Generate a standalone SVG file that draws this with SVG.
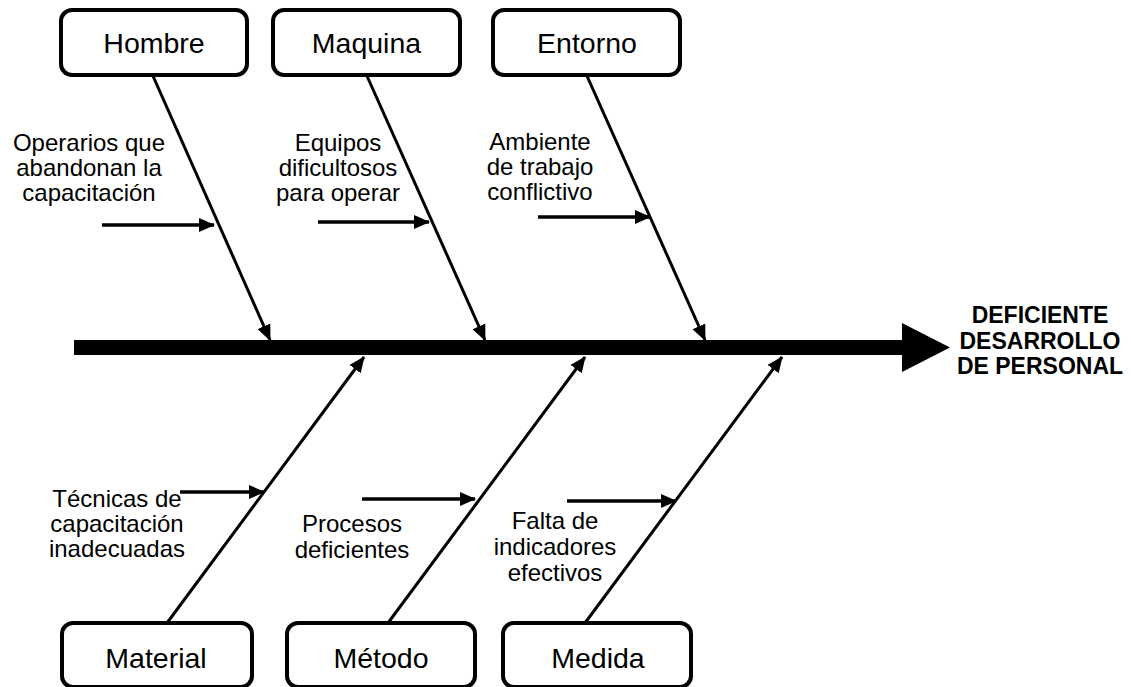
<svg xmlns="http://www.w3.org/2000/svg" width="1131" height="687" viewBox="0 0 1131 687">
  <style>
    .box { fill: #fff; stroke: #000; stroke-width: 4; }
    .boxlabel { font-family: "Liberation Sans", Arial, sans-serif; font-size: 28.5px; fill: #000; text-anchor: middle; }
    .cause { font-family: "Liberation Sans", Arial, sans-serif; font-size: 24px; fill: #000; text-anchor: middle; }
    .effect { font-family: "Liberation Sans", Arial, sans-serif; font-size: 23px; font-weight: bold; fill: #000; text-anchor: middle; }
    .bone { stroke: #000; stroke-width: 3; fill: none; marker-end: url(#head); }
    .sub { stroke: #000; stroke-width: 3.5; fill: none; marker-end: url(#head); }
  </style>
  <defs>
    <marker id="head" viewBox="0 0 16 16" refX="15" refY="8" markerWidth="16" markerHeight="16" markerUnits="userSpaceOnUse" orient="auto">
      <path d="M0,1 L16,8 L0,15 z" fill="#000"/>
    </marker>
  </defs>

  <rect width="1131" height="687" fill="#fff"/>

  <!-- spine with effect arrow -->
  <g id="spine">
    <rect x="74" y="340" width="830" height="15" fill="#000"/>
    <polygon points="902,323 950,347.5 902,372" fill="#000"/>
  </g>

  <!-- connectors: main bones and sub-cause arrows -->
  <g id="connectors">
    <line class="bone" x1="153" y1="76" x2="270" y2="340"/>
    <line class="bone" x1="367" y1="76" x2="485" y2="340"/>
    <line class="bone" x1="587" y1="76" x2="705" y2="340"/>
    <line class="bone" x1="167" y1="623" x2="364" y2="357"/>
    <line class="bone" x1="388" y1="623" x2="585" y2="357"/>
    <line class="bone" x1="585" y1="623" x2="782" y2="357"/>

    <line class="sub" x1="102" y1="225" x2="214" y2="225"/>
    <line class="sub" x1="318" y1="222" x2="429" y2="222"/>
    <line class="sub" x1="538" y1="217" x2="650" y2="217"/>
    <line class="sub" x1="180" y1="492" x2="264" y2="492"/>
    <line class="sub" x1="362" y1="499" x2="475" y2="499"/>
    <line class="sub" x1="567" y1="501" x2="676" y2="501"/>
  </g>

  <!-- category boxes -->
  <g id="hombre">
    <rect class="box" x="61" y="10" width="186" height="65" rx="11"/>
    <text class="boxlabel" x="154" y="53">Hombre</text>
  </g>
  <g id="maquina">
    <rect class="box" x="273" y="10" width="187" height="65" rx="11"/>
    <text class="boxlabel" x="366.5" y="53">Maquina</text>
  </g>
  <g id="entorno">
    <rect class="box" x="493" y="10" width="187" height="65" rx="11"/>
    <text class="boxlabel" x="587" y="53">Entorno</text>
  </g>
  <g id="material">
    <rect class="box" x="62" y="623" width="190" height="64" rx="11"/>
    <text class="boxlabel" x="156" y="668">Material</text>
  </g>
  <g id="metodo">
    <rect class="box" x="287" y="623" width="188" height="64" rx="11"/>
    <text class="boxlabel" x="381" y="668">Método</text>
  </g>
  <g id="medida">
    <rect class="box" x="503" y="623" width="188" height="64" rx="11"/>
    <text class="boxlabel" x="598" y="668">Medida</text>
  </g>

  <!-- cause labels -->
  <g id="cause-hombre">
    <text class="cause" x="89" y="151">Operarios que</text>
    <text class="cause" x="89" y="176">abandonan la</text>
    <text class="cause" x="89" y="201">capacitación</text>
  </g>
  <g id="cause-maquina">
    <text class="cause" x="338" y="151">Equipos</text>
    <text class="cause" x="338" y="176">dificultosos</text>
    <text class="cause" x="338" y="201">para operar</text>
  </g>
  <g id="cause-entorno">
    <text class="cause" x="540" y="150">Ambiente</text>
    <text class="cause" x="540" y="175">de trabajo</text>
    <text class="cause" x="540" y="200">conflictivo</text>
  </g>
  <g id="cause-material">
    <text class="cause" x="117" y="507">Técnicas de</text>
    <text class="cause" x="117" y="532">capacitación</text>
    <text class="cause" x="117" y="557">inadecuadas</text>
  </g>
  <g id="cause-metodo">
    <text class="cause" x="352" y="532">Procesos</text>
    <text class="cause" x="352" y="558">deficientes</text>
  </g>
  <g id="cause-medida">
    <text class="cause" x="555" y="529">Falta de</text>
    <text class="cause" x="555" y="555">indicadores</text>
    <text class="cause" x="555" y="581">efectivos</text>
  </g>

  <!-- effect -->
  <g id="effect">
    <text class="effect" x="1040" y="323">DEFICIENTE</text>
    <text class="effect" x="1040" y="349">DESARROLLO</text>
    <text class="effect" x="1040" y="374">DE PERSONAL</text>
  </g>
</svg>
